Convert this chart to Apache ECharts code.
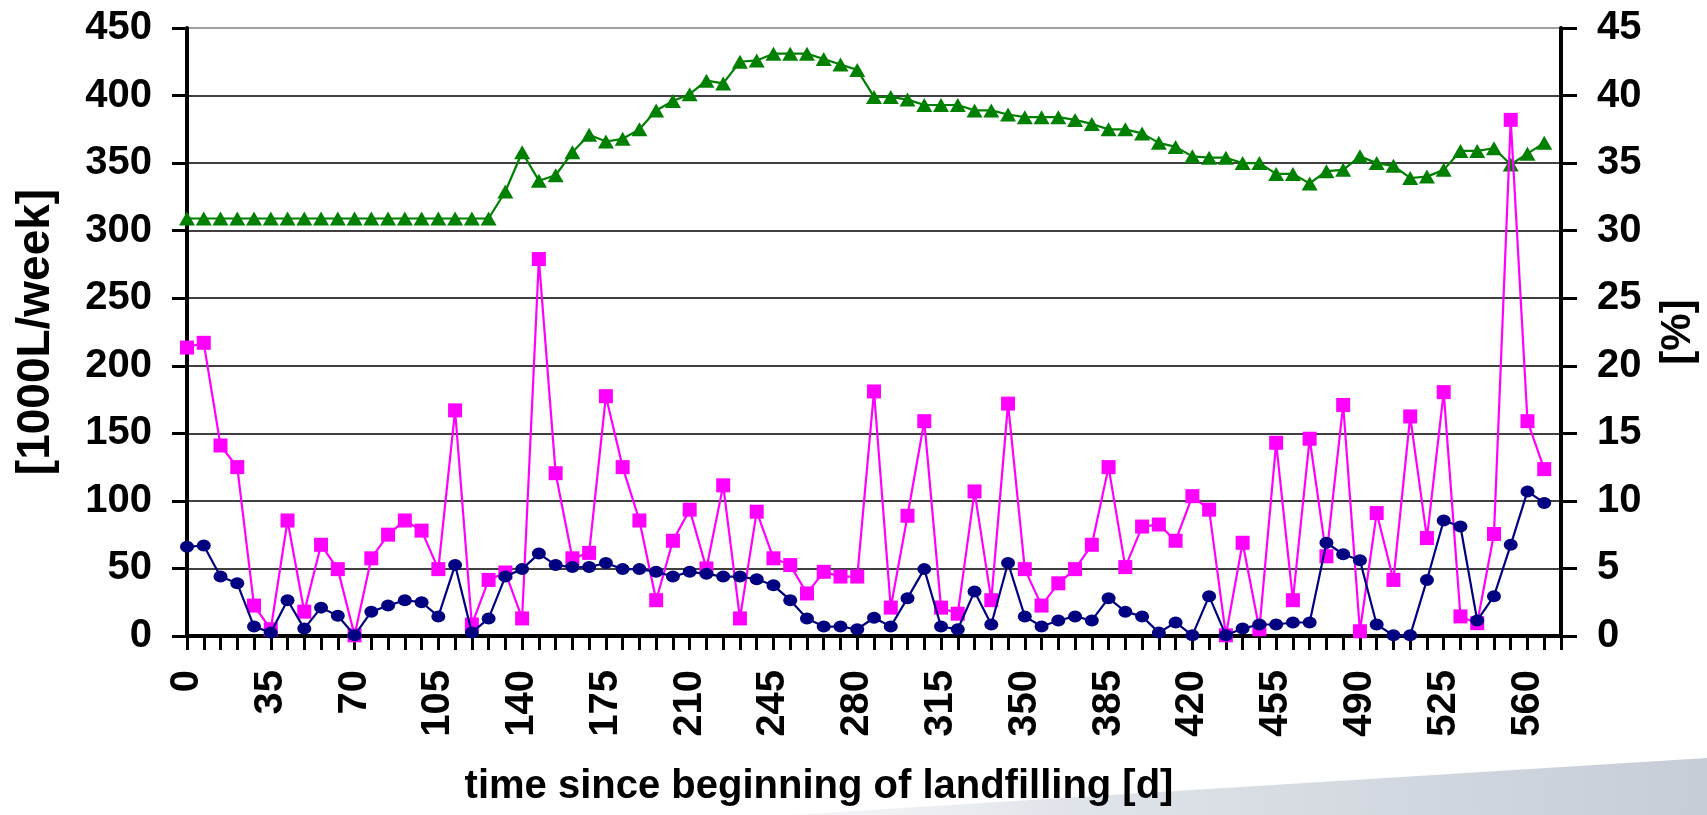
<!DOCTYPE html>
<html>
<head>
<meta charset="utf-8">
<style>
html,body{margin:0;padding:0;background:#fff;}
#chart{width:1707px;height:815px;}
</style>
<script src="https://cdn.jsdelivr.net/npm/echarts@6/dist/echarts.min.js"></script>
</head>
<body>
<div id="chart"></div>
<script>
const days = [0,7,14,21,28,35,42,49,56,63,70,77,84,91,98,105,112,119,126,133,140,147,154,161,168,175,182,189,196,203,210,217,224,231,238,245,252,259,266,273,280,287,294,301,308,315,322,329,336,343,350,357,364,371,378,385,392,399,406,413,420,427,434,441,448,455,462,469,476,483,490,497,504,511,518,525,532,539,546,553,560,567,574];

const magentaSeries = [213.5,217,141,125,22.5,5,85.5,18,67.5,49.5,0.5,57.5,75,85.5,78,49.5,167,8.5,41.5,47,13,279,120.5,57.5,61.5,177.5,125,85.5,26.5,70.5,93.5,50,111.5,13,92,57.5,52.5,31.5,47.5,44,44,181,21,89,159,21,16.5,107,26.5,172,49.5,22.5,39,49.5,67.5,125,51,81,82.5,70.5,103.5,93.5,0.5,69,5,143,26.5,146,59,171,3.5,91,41.5,162.5,72.5,180.5,14.5,9.5,75.5,382,159,123.5];

const navySeries = [66,67,44,39,7,2.5,26.5,5.5,21,15,0.5,18,22.5,26.5,25,14.5,52.5,2.5,13,44,49.5,61,52.5,51,51,54,49.5,49.5,47.5,44,47.5,46,44,44,42,37.5,26.5,13,7,7,5,13.5,7,28,49.5,7,5,33,8.5,54,14.5,7,11.5,14.5,11.5,28,18,14.5,2.5,10,0.5,29.5,0.5,5.5,8.5,8.5,10,10,69,60.5,56,8.5,0.5,0.5,41.5,85.5,81,11.5,29.5,67.5,107,98.5];

const greenPercent = [30.9,30.9,30.9,30.9,30.9,30.9,30.9,30.9,30.9,30.9,30.9,30.9,30.9,30.9,30.9,30.9,30.9,30.9,30.9,32.9,35.8,33.7,34.1,35.8,37.1,36.6,36.8,37.5,38.9,39.6,40.1,41.1,40.9,42.5,42.6,43.1,43.1,43.1,42.7,42.3,41.9,39.9,39.9,39.7,39.3,39.3,39.3,38.9,38.9,38.6,38.4,38.4,38.4,38.2,37.9,37.5,37.5,37.2,36.5,36.2,35.5,35.4,35.4,35.0,35.0,34.2,34.2,33.5,34.4,34.5,35.5,35.0,34.8,33.9,34.0,34.5,35.9,35.9,36.1,34.9,35.7,36.5];

const xTitle = 'time since beginning of landfilling [d]';
const leftTitle = '[1000L/week]';
const rightTitle = '[%]';

const FONT = 'Liberation Sans';
const chart = echarts.init(document.getElementById('chart'), null, {renderer: 'canvas'});

const axisLabelStyle = {fontFamily: FONT, fontWeight: 'bold', fontSize: 40, color: '#000'};

chart.setOption({
  animation: false,
  backgroundColor: '#fff',
  graphic: [{
    type: 'polygon',
    z: -10,
    silent: true,
    shape: {points: [[790, 815], [1707, 758], [1707, 815]]},
    style: {
      fill: new echarts.graphic.LinearGradient(0, 0, 1, 0, [
        {offset: 0, color: 'rgba(230,233,238,0.4)'},
        {offset: 0.3, color: '#e0e4ea'},
        {offset: 1, color: '#c6cdd6'}
      ])
    }
  }],
  grid: {left: 187, right: 146, top: 28, bottom: 179, containLabel: false},
  xAxis: {
    type: 'category',
    data: days,
    boundaryGap: false,
    name: xTitle,
    nameLocation: 'middle',
    nameGap: 131,
    nameTextStyle: {fontFamily: FONT, fontWeight: 'bold', fontSize: 40, color: '#000', padding: [0, 110, 0, 0]},
    axisLine: {lineStyle: {color: '#000', width: 4}},
    axisTick: {show: true, interval: 0, length: 14, lineStyle: {color: '#000', width: 3}},
    axisLabel: Object.assign({interval: 4, rotate: 90, margin: 34}, axisLabelStyle),
    splitLine: {show: false}
  },
  yAxis: [{
    type: 'value',
    min: 0, max: 450, interval: 50,
    position: 'left',
    name: leftTitle,
    nameLocation: 'middle',
    nameRotate: 90,
    nameGap: 128,
    nameTextStyle: {fontFamily: FONT, fontWeight: 'bold', fontSize: 46, color: '#000'},
    axisLine: {show: true, lineStyle: {color: '#000', width: 4}},
    axisTick: {show: true, length: 15, lineStyle: {color: '#000', width: 3}},
    axisLabel: Object.assign({margin: 35}, axisLabelStyle),
    splitLine: {show: true, lineStyle: {color: ['#000','#000','#000','#000','#000','#000','#000','#000','#000','#808080'], width: 1.5}}
  }, {
    type: 'value',
    min: 0, max: 45, interval: 5,
    position: 'right',
    name: rightTitle,
    nameLocation: 'middle',
    nameRotate: 90,
    nameGap: 96,
    nameTextStyle: {fontFamily: FONT, fontWeight: 'bold', fontSize: 42, color: '#000'},
    axisLine: {show: true, lineStyle: {color: '#000', width: 4}},
    axisTick: {show: true, length: 16, lineStyle: {color: '#000', width: 3}},
    axisLabel: Object.assign({margin: 36}, axisLabelStyle),
    splitLine: {show: false}
  }],
  series: [{
    name: 'green',
    type: 'line',
    yAxisIndex: 1,
    data: greenPercent,
    showAllSymbol: true,
    symbol: 'triangle',
    symbolSize: [16, 14],
    lineStyle: {color: '#008000', width: 2.2},
    itemStyle: {color: '#008000'},
    z: 3
  }, {
    name: 'magenta',
    type: 'line',
    yAxisIndex: 0,
    data: magentaSeries,
    showAllSymbol: true,
    symbol: 'rect',
    symbolSize: 14,
    lineStyle: {color: '#FF00FF', width: 2.2},
    itemStyle: {color: '#FF00FF'},
    z: 4
  }, {
    name: 'navy',
    type: 'line',
    yAxisIndex: 0,
    data: navySeries,
    showAllSymbol: true,
    symbol: 'circle',
    symbolSize: [14, 12],
    lineStyle: {color: '#000080', width: 2.2},
    itemStyle: {color: '#000080'},
    z: 5
  }]
});
</script>
</body>
</html>
